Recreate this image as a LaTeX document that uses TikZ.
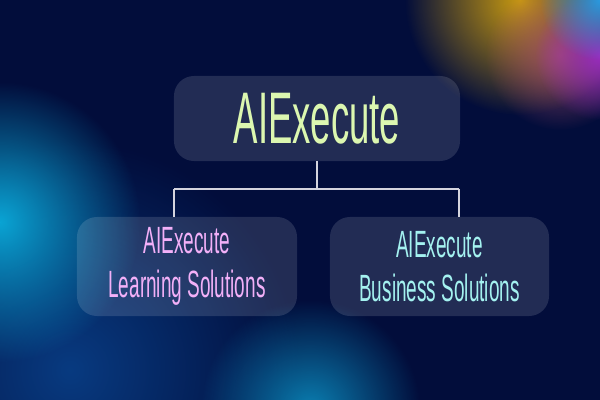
\documentclass[tikz,border=0pt]{standalone}
\usepackage{fontspec}
\setmainfont{Liberation Sans}[FakeStretch=0.5]
\usetikzlibrary{fadings}
\definecolor{bgnavy}{HTML}{020D3B}
\definecolor{glowcyan}{HTML}{0AA4D4}
\definecolor{glowblue}{HTML}{0A4A98}
\definecolor{glowteal}{HTML}{0C9CD0}
\definecolor{blobgold}{HTML}{C89A10}
\definecolor{blobrose}{HTML}{B05070}
\definecolor{blobviolet}{HTML}{9A2CC0}
\definecolor{blobsky}{HTML}{2A9AE0}
\definecolor{wirecol}{HTML}{D4D4DE}
\definecolor{titlegreen}{HTML}{DCF7B0}
\definecolor{learnpink}{HTML}{F2B0F8}
\definecolor{bizcyan}{HTML}{A4F2F0}
\tikzfading[name=glowfade, inner color=transparent!0, outer color=transparent!100]

\begin{document}
\begin{tikzpicture}[x=0.025cm, y=-0.025cm,
    card/.style={rounded corners=0.5cm, fill=white, fill opacity=0.13, text opacity=1, inner sep=0pt, align=center},
    wire/.style={draw=wirecol, line width=1.1pt}]
    \useasboundingbox (0,0) rectangle (600,400);
    \fill[bgnavy] (0,0) rectangle (600,400);

    % background glows
    \begin{scope}
        \clip (0,0) rectangle (600,400);
        \fill[glowblue, path fading=glowfade, opacity=0.75] (70,370) circle (230);
        \fill[glowcyan, path fading=glowfade] (0,222) circle (140);
        \fill[glowteal, path fading=glowfade, opacity=0.8] (310,410) circle (110);
        \fill[blobgold, path fading=glowfade] (520,0) circle (115);
        \fill[blobrose, path fading=glowfade, opacity=0.8] (560,55) circle (75);
        \fill[blobviolet, path fading=glowfade] (600,55) circle (65);
        \fill[blobsky, path fading=glowfade] (600,0) circle (60);
    \end{scope}

    % boxes
    \node[card, minimum width=7.15cm, minimum height=2.125cm, text=titlegreen,
          font=\fontsize{52}{60}\selectfont] (top) at (317,118.5) {AIExecute};
    \node[card, minimum width=5.5cm, minimum height=2.475cm, text=learnpink,
          font=\fontsize{27}{31.5}\selectfont] (lsol) at (187,266.5) {AIExecute\\Learning Solutions};
    \node[card, minimum width=5.475cm, minimum height=2.475cm, text=bizcyan,
          font=\fontsize{27}{31.5}\selectfont] (bsol) at (439.5,266.5) {AIExecute\\Business Solutions};

    % connectors
    \coordinate (jn) at (317,189);
    \coordinate (jl) at (174,189);
    \coordinate (jr) at (459,189);
    \draw[wire] (top.south) -- (jn);
    \draw[wire] (jl) -- (jr);
    \draw[wire] (jl) -- (jl |- lsol.north);
    \draw[wire] (jr) -- (jr |- bsol.north);

\end{tikzpicture}
\end{document}
